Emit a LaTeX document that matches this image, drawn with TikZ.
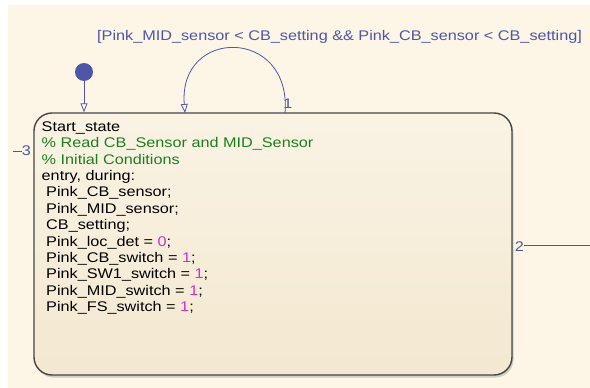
\documentclass[tikz,border=0pt]{standalone}
\usepackage{fontspec}
\newfontfamily\chartfont{Liberation Sans}[FakeStretch=1.16]
\usetikzlibrary{arrows.meta,shadows}

\definecolor{chartbg}{RGB}{253,245,229}
\definecolor{statetop}{RGB}{250,243,228}
\definecolor{statebot}{RGB}{243,232,208}
\definecolor{stateline}{RGB}{70,70,70}
\definecolor{transblue}{RGB}{78,86,168}
\definecolor{commentgreen}{RGB}{28,128,28}
\definecolor{numpink}{RGB}{205,50,205}
\newcommand{\numval}[1]{\textcolor{numpink}{#1}}

\begin{document}
\begin{tikzpicture}[x=1pt,y=-1pt,
    font=\chartfont\fontsize{14}{16.4}\selectfont,
    state box/.style={rectangle,draw=stateline,line width=1.4pt,
      rounded corners=18pt,top color=statetop,bottom color=statebot,
      drop shadow={shadow xshift=1.5pt,shadow yshift=-2.5pt,opacity=0.35}},
    trans/.style={transblue,line width=0.8pt,
      -{Triangle[open,length=9pt,width=7pt]}},
    trans line/.style={transblue,line width=0.8pt},
    trans label/.style={transblue,inner sep=0pt},
    init dot/.style={circle,fill=transblue,inner sep=0pt,minimum size=18pt}]

  \useasboundingbox (0,0) rectangle (590,388);
  \fill[chartbg] (8,5) rectangle (590,388);

  % the state and its actions
  \node[state box,minimum width=478pt,minimum height=262pt] (state) at (273,244) {};
  \node[anchor=north west,align=left,inner sep=0pt] (body) at (41.5,121.3) {%
    Start\_state\\
    \textcolor{commentgreen}{\% Read CB\_Sensor and MID\_Sensor}\\
    \textcolor{commentgreen}{\% Initial Conditions}\\
    entry, during:\\
    \ Pink\_CB\_sensor;\\
    \ Pink\_MID\_sensor;\\
    \ CB\_setting;\\
    \ Pink\_loc\_det = \numval{0};\\
    \ Pink\_CB\_switch = \numval{1};\\
    \ Pink\_SW1\_switch = \numval{1};\\
    \ Pink\_MID\_switch = \numval{1};\\
    \ Pink\_FS\_switch = \numval{1};};

  % default transition
  \node[init dot] (init) at (84,72) {};
  \draw[trans] (init) -- (init |- state.north);

  % self loop with its guard
  \coordinate (loopout) at (285,113);
  \coordinate (loopin) at (185,113);
  \draw[trans] (loopout) .. controls (292,27) and (178,27) .. (loopin);
  \node[trans label,anchor=base] (n1) at (288,108) {1};
  \node[trans label,anchor=base west] (guard) at (97,40)
    {[Pink\_MID\_sensor < CB\_setting \&\& Pink\_CB\_sensor < CB\_setting]};

  % transitions cut at the chart border
  \node[trans label,anchor=base] (n3) at (26.5,155.5) {3};
  \coordinate (in3) at (13,151);
  \draw[trans line] (in3) -- (n3.west |- in3);
  \node[trans label,anchor=base] (n2) at (519.5,251) {2};
  \coordinate (out2) at (590,245);
  \draw[trans line] (n2.east |- out2) -- (out2);
\end{tikzpicture}
\end{document}
